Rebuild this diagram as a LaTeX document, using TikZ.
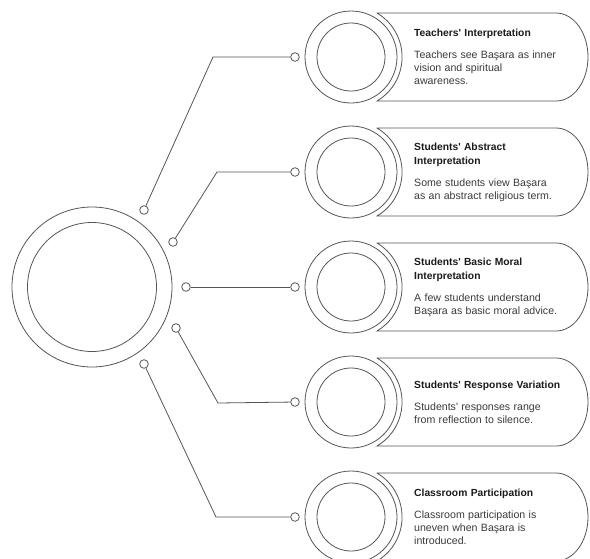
\documentclass[tikz,border=0pt]{standalone}
\usepackage{fontspec}
\setmainfont{Liberation Sans}[Ligatures=TeXOff]
\definecolor{linec}{HTML}{555555}
\definecolor{titlec}{HTML}{1A1A1A}
\definecolor{bodyc}{HTML}{3A3A3A}
\newcommand\titlef{\fontsize{10.3}{14}\selectfont\bfseries\color{titlec}}
\newcommand\bodyf{\fontsize{10.6}{13}\selectfont\color{bodyc}}
\tikzset{
  conn/.style={draw=linec, line width=0.8pt},
  dot/.style={circle, draw=linec, line width=0.8pt, fill=white, minimum size=8.6pt, inner sep=0pt},
  ring/.style={draw=linec, line width=0.8pt},
  capsule/.style={draw=linec, line width=0.8pt},
  label/.style={anchor=west, text width=175pt, align=left, inner sep=0pt}
}
\newcommand\itemblock[4]{%
  \begin{scope}[shift={(351,#1)}]
    \draw[ring] (0,0) circle[radius=46];
    \draw[ring] (0,0) circle[radius=34];
    \draw[capsule] (26,44) -- (205,44) arc[start angle=90, end angle=-90, x radius=32, y radius=44]
      -- (26,-44) arc[start angle=-59.4, end angle=59.4, radius=51.1] -- cycle;
    \node[dot] (#2) at (-56,0) {};
    \node[label] (#2t) at (63,0) {{\titlef #3\par}\vspace{9pt}{\bodyf #4\par}};
  \end{scope}}
\begin{document}
\begin{tikzpicture}[x=1pt,y=1pt]
\useasboundingbox (0,0) rectangle (590,-558);
% central circle
\node[circle, draw=linec, line width=0.8pt, minimum size=160pt, inner sep=0pt] (hub) at (92,-287) {};
\draw[ring] (hub.center) circle[radius=64.5];
% hub dots
\node[dot] (c1) at (144,-210) {};
\node[dot] (c2) at (173,-242) {};
\node[dot] (c3) at (186,-287) {};
\node[dot] (c4) at (176,-328) {};
\node[dot] (c5) at (144,-364) {};
% items
\itemblock{-57}{i1}{Teachers' Interpretation}{Teachers see Başara as inner\\vision and spiritual\\awareness.}
\itemblock{-172}{i2}{Students' Abstract\\Interpretation}{Some students view Başara\\as an abstract religious term.}
\itemblock{-287}{i3}{Students' Basic Moral\\Interpretation}{A few students understand\\Başara as basic moral advice.}
\itemblock{-402}{i4}{Students' Response Variation}{Students' responses range\\from reflection to silence.}
\itemblock{-517}{i5}{Classroom Participation}{Classroom participation is\\uneven when Başara is\\introduced.}
% bends
\coordinate (b1) at (213,-57);
\coordinate (b2) at (217,-172);
\coordinate (b4) at (218,-403);
\coordinate (b5) at (216,-517);
% connectors
\draw[conn] (c1) -- (b1) -- (i1);
\draw[conn] (c2) -- (b2) -- (i2);
\draw[conn] (c3) -- (i3);
\draw[conn] (c4) -- (b4) -- (i4);
\draw[conn] (c5) -- (b5) -- (i5);
\end{tikzpicture}
\end{document}
